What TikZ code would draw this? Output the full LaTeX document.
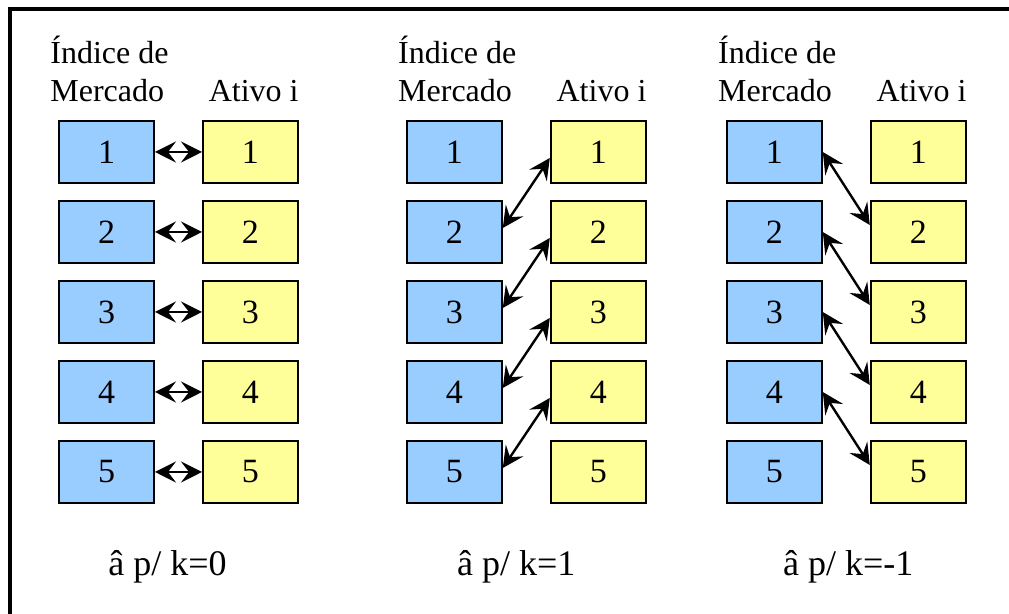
\documentclass[tikz,border=0pt]{standalone}
\usepackage{fontspec}
\setmainfont{Liberation Serif}
\usetikzlibrary{arrows.meta, positioning}

\definecolor{idxblue}{RGB}{153,204,255}
\definecolor{assetyellow}{RGB}{255,255,153}

\begin{document}
\begin{tikzpicture}[
  x=0.5pt, y=-0.5pt,
  box/.style={draw, line width=1pt, minimum width=47.5pt, minimum height=31pt,
              inner sep=0pt, font=\rmfamily\fontsize{17}{20}\selectfont},
  hdr/.style={inner sep=0pt, font=\rmfamily\fontsize{16}{19}\selectfont},
  lag/.style={inner sep=0pt, font=\rmfamily\fontsize{18}{22}\selectfont},
  tip/.tip={Stealth[length=10.5pt,width=10.5pt,inset=4pt]},
  arr/.style={tip-tip, line width=1.2pt},
  node distance=8pt and 23.5pt
]
  \useasboundingbox (0,0) rectangle (1009,614);

  % Frame
  \draw[line width=2pt] (10,614) -- (10,9) -- (1009,9);

  % One column per lag: index boxes, asset boxes, headers, label
  \foreach \c/\cx/\lx/\k in {a/106.5/25/0, b/454.3/25.5/1, c/774.3/28.5/-1} {
    \foreach \r in {1,...,5} {
      \node[box, fill=idxblue] (\c m\r) at (\cx,72+80*\r) {\r};
      \node[box, fill=assetyellow, right=of \c m\r] (\c s\r) {\r};
    }
    \node[hdr, anchor=base west] (\c hd1) at ([xshift=-4pt,yshift=28pt]\c m1.north west) {Índice de};
    \node[hdr, anchor=base west] (\c hd2) at ([xshift=-4pt,yshift=9pt]\c m1.north west) {Mercado};
    \node[hdr, anchor=base east] (\c hd3) at ([yshift=9pt]\c s1.north east) {Ativo i};
    \node[lag, anchor=base west] (\c lag) at ([xshift=\lx pt,yshift=-36pt]\c m5.south west) {â p/ k=\k};
  }

  % k=0: same row
  \foreach \r in {1,...,5}
    \draw[arr] (am\r) -- (as\r);

  % k=1: index one row below
  \foreach \r [count=\n from 2] in {1,...,4}
    \draw[arr] ([yshift=2pt]bm\n.east) -- ([yshift=-3pt]bs\r.west);

  % k=-1: asset one row below
  \foreach \r [count=\n from 2] in {1,...,4}
    \draw[arr] (cm\r.east) -- ([yshift=3.5pt]cs\n.west);
\end{tikzpicture}
\end{document}
